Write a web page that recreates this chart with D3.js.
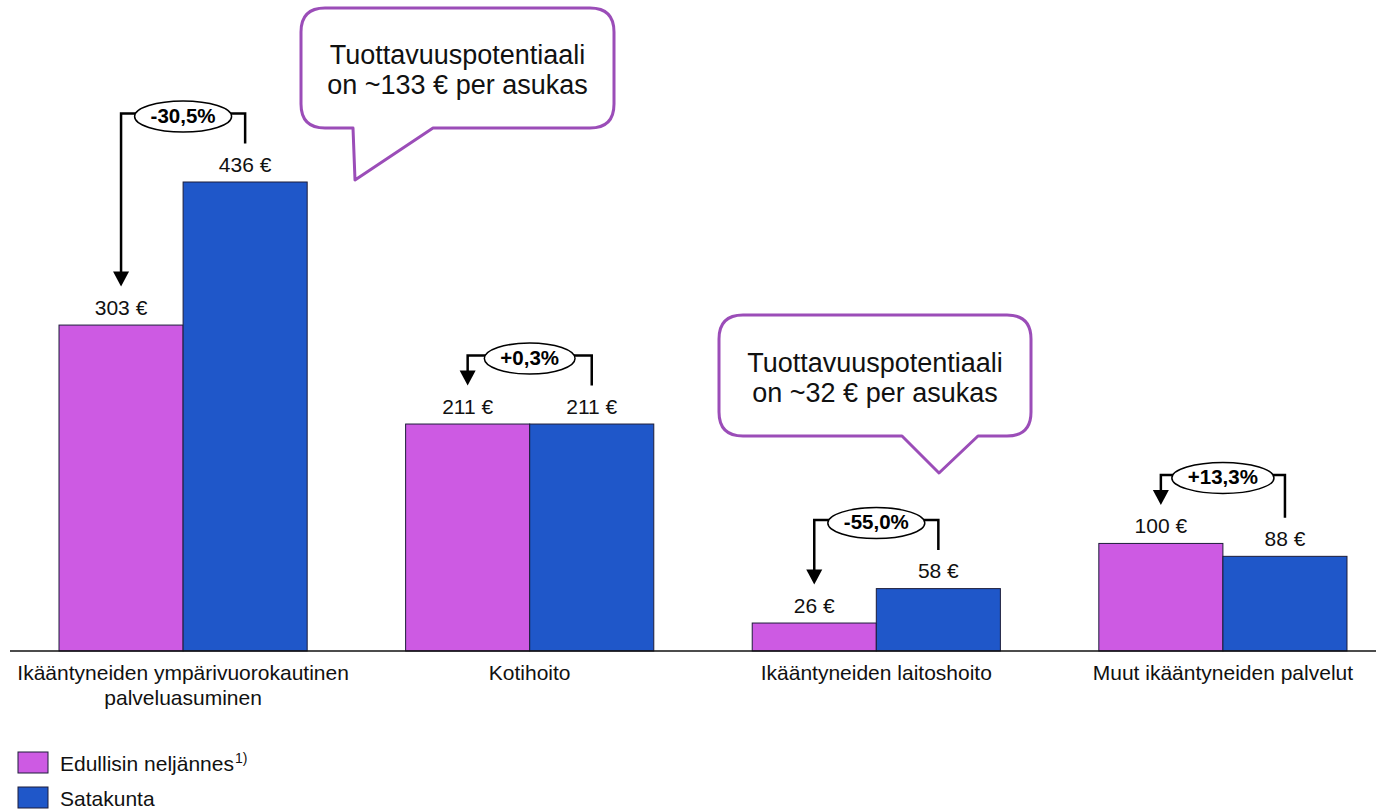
<!DOCTYPE html>
<html><head><meta charset="utf-8">
<script src="https://cdn.jsdelivr.net/npm/d3@7"></script>
<style>
html,body{margin:0;padding:0;background:#fff;}
svg{display:block;font-family:"Liberation Sans",Arial,sans-serif;}
</style></head>
<body>
<svg id="chart" width="1376" height="809"></svg>
<script>
const categories = [["Ikääntyneiden ympärivuorokautinen","palveluasuminen"],["Kotihoito"],["Ikääntyneiden laitoshoito"],["Muut ikääntyneiden palvelut"]];
const seriesNames = ["Edullisin neljännes", "Satakunta"];
const edullisin = [303, 211, 26, 100];
const satakunta = [436, 211, 58, 88];
const changeLabels = ["-30,5%", "+0,3%", "-55,0%", "+13,3%"];
const callout1 = ["Tuottavuuspotentiaali", "on ~133 € per asukas"];
const callout2 = ["Tuottavuuspotentiaali", "on ~32 € per asukas"];

const colors = ["#CD5AE3", "#1F57C9"];
const svg = d3.select("#chart");
const baseY = 651;

const x0 = d3.scaleBand().domain(d3.range(categories.length)).range([10, 1396]).paddingInner(0.284).paddingOuter(0.1414);
const x1 = d3.scaleBand().domain([0,1]).range([0, x0.bandwidth()]);
const y = d3.scaleLinear().domain([0, 436]).range([baseY, 182]);

const data = categories.map((c,i)=>({i, vals:[edullisin[i], satakunta[i]]}));

// bars
const g = svg.append("g");
data.forEach(d=>{
  d.vals.forEach((v,s)=>{
    g.append("rect")
      .attr("x", x0(d.i)+x1(s)).attr("y", y(v))
      .attr("width", x1.bandwidth()).attr("height", baseY - y(v))
      .attr("fill", colors[s]).attr("stroke", "#1d1d3a").attr("stroke-width", 1);
    g.append("text")
      .attr("x", x0(d.i)+x1(s)+x1.bandwidth()/2).attr("y", y(v)-10.5)
      .attr("text-anchor","middle").attr("font-size",21).attr("fill","#111")
      .text(v + " €");
  });
});

// axis line
svg.append("line").attr("x1",10).attr("x2",1376).attr("y1",baseY).attr("y2",baseY)
  .attr("stroke","#111").attr("stroke-width",1.5);

// category labels
data.forEach(d=>{
  const t = svg.append("text").attr("text-anchor","middle").attr("font-size",21).attr("fill","#111")
    .attr("x", x0(d.i)+x0.bandwidth()/2).attr("y", 680);
  categories[d.i].forEach((line,k)=>{
    t.append("tspan").attr("x", x0(d.i)+x0.bandwidth()/2).attr("dy", k===0?0:25).text(line);
  });
});

// change brackets
data.forEach(d=>{
  const xl = x0(d.i)+x1(0)+x1.bandwidth()/2;
  const xr = x0(d.i)+x1(1)+x1.bandwidth()/2;
  const xc = x0(d.i)+x0.bandwidth()/2;
  const endL = y(d.vals[0]) - 10.5 - 28;
  const endR = y(d.vals[1]) - 10.5 - 28;
  const ly = Math.min(endL, endR) - 30;
  const ag = svg.append("g");
  ag.append("path")
    .attr("d", `M${xl},${endL-14} L${xl},${ly} L${xr},${ly} L${xr},${endR}`)
    .attr("fill","none").attr("stroke","#000").attr("stroke-width",2.5);
  ag.append("path")
    .attr("d", `M${xl-8},${endL-15} L${xl+8},${endL-15} L${xl},${endL} Z`)
    .attr("fill","#000");
  const txt = ag.append("text").attr("x", xc).attr("y", ly+9).attr("text-anchor","middle")
    .attr("font-size",20.5).attr("font-weight","bold").attr("fill","#000").text(changeLabels[d.i]);
  const w = txt.node().getComputedTextLength();
  ag.insert("ellipse","text").attr("cx", xc).attr("cy", ly+3).attr("rx", w/2+16).attr("ry", 15.5)
    .attr("fill","#fff").attr("stroke","#000").attr("stroke-width",1.5);
});

// callouts
function callout(bx0, by0, bx1, by1, r, tl, tr, tip, lines, baseline) {
  const p = `M${bx0+r},${by0} L${bx1-r},${by0} Q${bx1},${by0} ${bx1},${by0+r} L${bx1},${by1-r} Q${bx1},${by1} ${bx1-r},${by1} L${tr},${by1} L${tip[0]},${tip[1]} L${tl},${by1} L${bx0+r},${by1} Q${bx0},${by1} ${bx0},${by1-r} L${bx0},${by0+r} Q${bx0},${by0} ${bx0+r},${by0} Z`;
  svg.append("path").attr("d", p).attr("fill","#fff").attr("stroke","#9B4DB8").attr("stroke-width",3).attr("stroke-linejoin","round");
  lines.forEach((l,k)=>{
    svg.append("text").attr("x",(bx0+bx1)/2).attr("y", baseline + k*30).attr("text-anchor","middle")
      .attr("font-size",27).attr("fill","#111").text(l);
  });
}
callout(301, 8, 614, 128, 24, 353, 433, [355,180], callout1, 64);
callout(719, 315, 1031, 436, 24, 902, 978, [939,473], callout2, 372);

// legend
seriesNames.forEach((n,s)=>{
  const ly = 752 + s*35;
  svg.append("rect").attr("x",18).attr("y",ly).attr("width",30).attr("height",21)
    .attr("fill",colors[s]).attr("stroke","#1d1d3a").attr("stroke-width",1);
  const t = svg.append("text").attr("x",60).attr("y",ly+19).attr("font-size",21).attr("fill","#111").text(n);
  if (s===0) t.append("tspan").attr("font-size",14).attr("dy",-8).attr("dx",1).text("1)");
});
</script>
</body></html>
